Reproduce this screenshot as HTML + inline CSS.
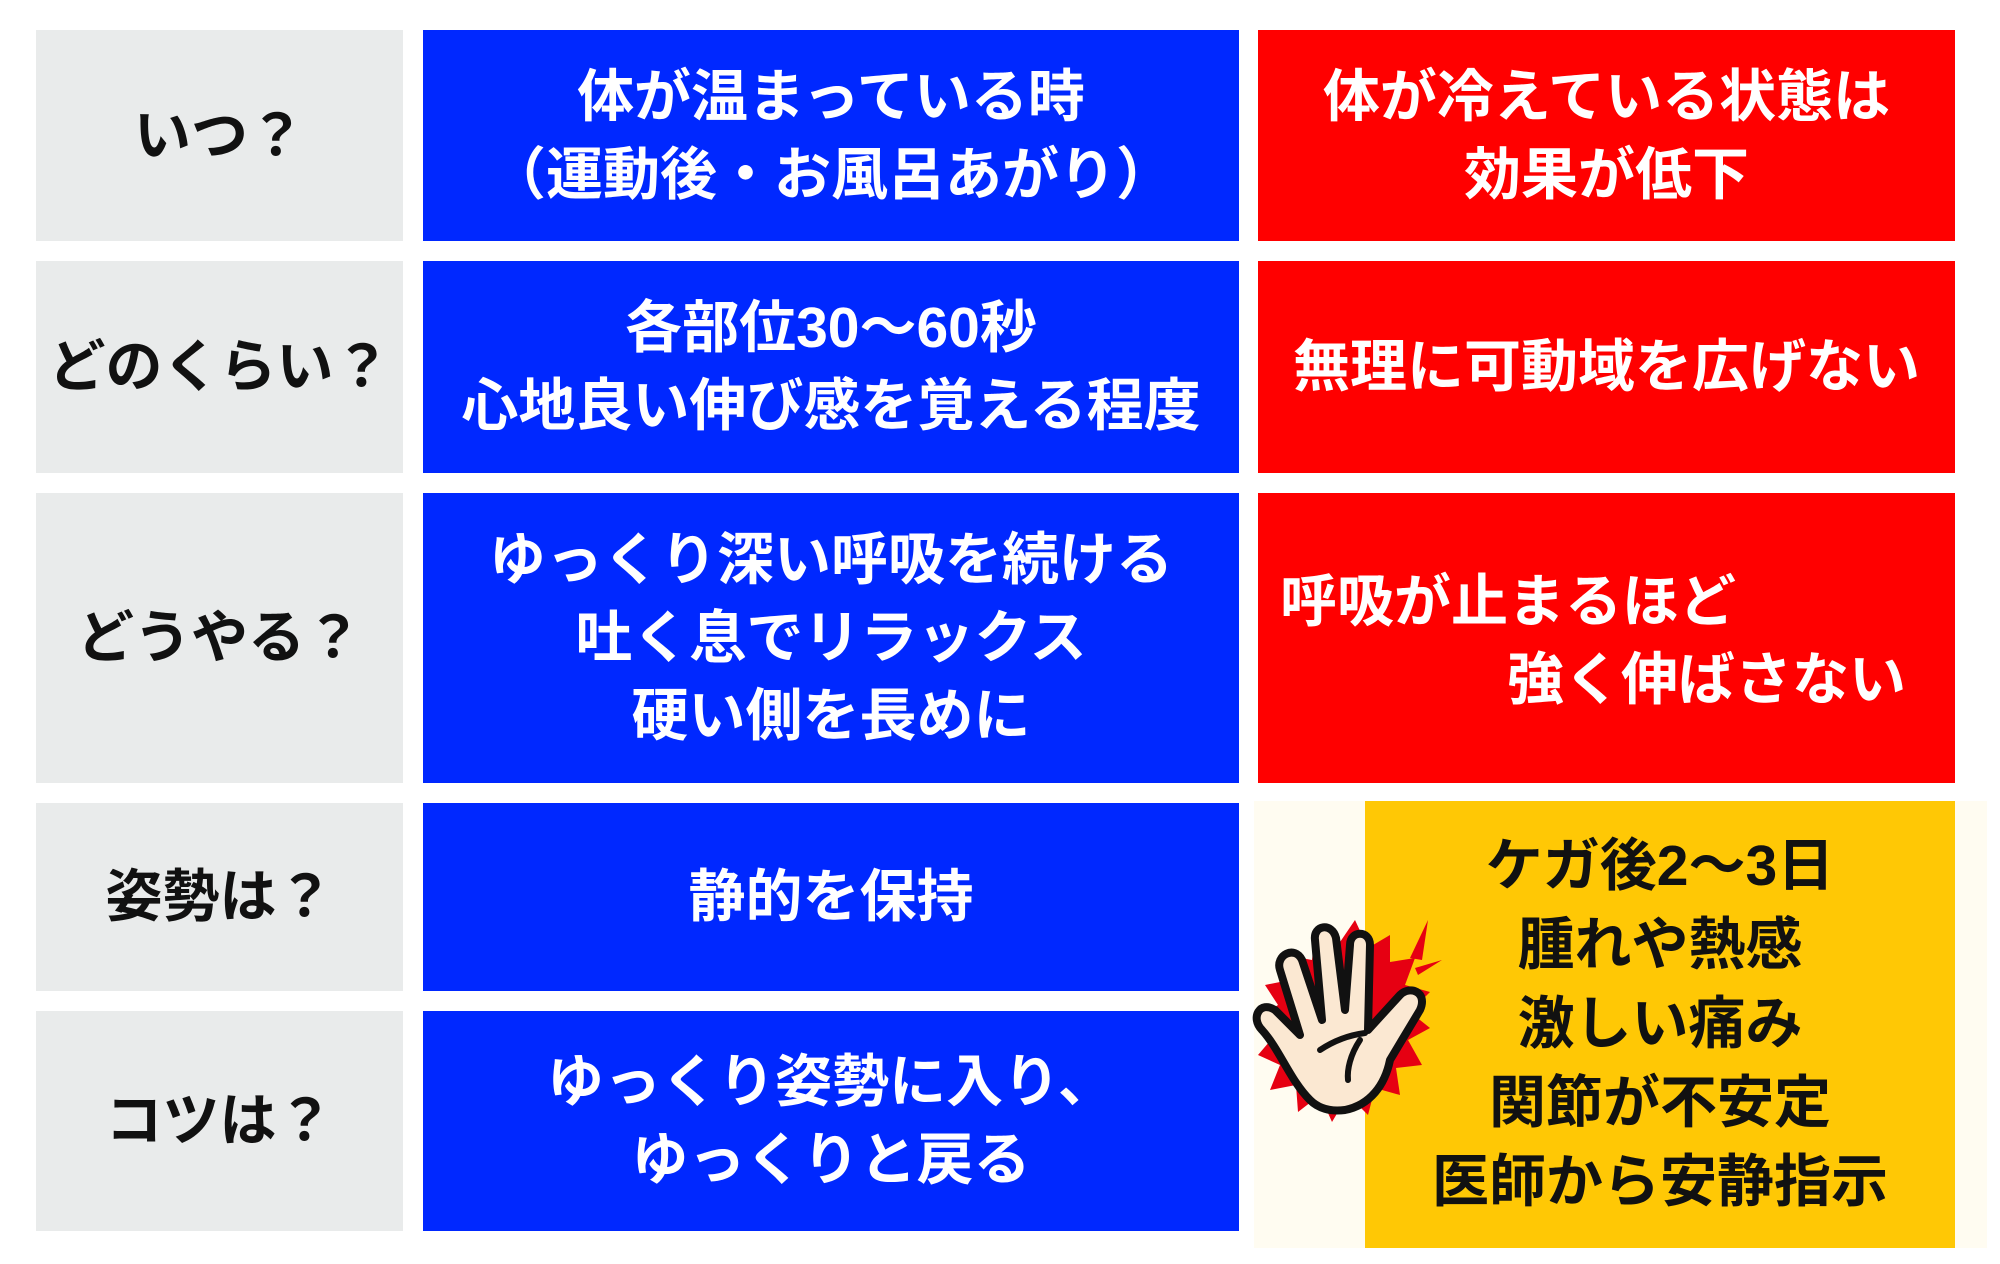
<!DOCTYPE html>
<html><head><meta charset="utf-8"><style>
body{margin:0;width:2000px;height:1264px;background:#fff;position:relative;overflow:hidden;font-family:"Liberation Sans","Noto Sans CJK JP",sans-serif;font-weight:bold}
.b{position:absolute;display:flex;align-items:center;justify-content:center;text-align:center;font-size:57px;line-height:78px}
.g{background:#e9ebeb;color:#111}
.bl{background:#0028ff;color:#fff}
.r{background:#ff0000;color:#fff}
</style></head><body>
<div class="b g" style="left:36px;top:30px;width:367px;height:211px">いつ？</div>
<div class="b g" style="left:36px;top:261px;width:367px;height:212px">どのくらい？</div>
<div class="b g" style="left:36px;top:493px;width:367px;height:290px">どうやる？</div>
<div class="b g" style="left:36px;top:803px;width:367px;height:188px">姿勢は？</div>
<div class="b g" style="left:36px;top:1011px;width:367px;height:220px">コツは？</div>

<div class="b bl" style="left:423px;top:30px;width:816px;height:211px">体が温まっている時<br>（運動後・お風呂あがり）</div>
<div class="b bl" style="left:423px;top:261px;width:816px;height:212px">各部位30〜60秒<br>心地良い伸び感を覚える程度</div>
<div class="b bl" style="left:423px;top:493px;width:816px;height:290px">ゆっくり深い呼吸を続ける<br>吐く息でリラックス<br>硬い側を長めに</div>
<div class="b bl" style="left:423px;top:803px;width:816px;height:188px">静的を保持</div>
<div class="b bl" style="left:423px;top:1011px;width:816px;height:220px">ゆっくり姿勢に入り、<br>ゆっくりと戻る</div>

<div class="b r" style="left:1258px;top:30px;width:697px;height:211px">体が冷えている状態は<br>効果が低下</div>
<div class="b r" style="left:1258px;top:261px;width:697px;height:212px">無理に可動域を広げない</div>
<div class="b r" style="left:1258px;top:493px;width:697px;height:290px;display:block;text-align:left">
<div style="position:absolute;left:22px;top:70px">呼吸が止まるほど</div>
<div style="position:absolute;left:249px;top:148px">強く伸ばさない</div></div>

<div style="position:absolute;left:1254px;top:801px;width:733px;height:447px;background:#fffcf1"></div>
<div class="b" style="left:1365px;top:801px;width:590px;height:447px;background:#ffc805;color:#111;line-height:79px">ケガ後2〜3日<br>腫れや熱感<br>激しい痛み<br>関節が不安定<br>医師から安静指示</div>

<svg style="position:absolute;left:1250px;top:900px" width="230" height="250" viewBox="0 0 230 250">
<polygon fill="#e60012" points="105,20 118,48 140,35 140,62 165,58 155,85 180,92 160,112 180,128 158,140 172,165 146,168 150,195 125,188 118,215 98,195 82,222 70,195 48,212 46,185 20,190 30,165 8,155 25,135 5,120 28,105 15,85 40,80 35,55 62,60 65,32 88,45"/>
<polygon fill="#e60012" points="178,20 172,60 160,58"/>
<polygon fill="#e60012" points="192,60 168,75 165,68"/>
<path d="M60,200 C40,180 30,150 12,130 C0,118 10,100 25,110 L50,135 L30,70 C25,55 45,45 52,60 L72,120 L65,40 C63,25 82,22 86,38 L95,110 L100,45 C100,30 120,30 120,45 L118,130 L150,95 C160,85 178,92 170,110 L140,160 C135,185 120,205 95,210 C80,212 68,208 60,200 Z" fill="#fbe8d2" stroke="#111" stroke-width="8" stroke-linejoin="round"/>
<path d="M70,150 C85,140 100,135 115,133 M110,140 C100,155 97,170 98,180" fill="none" stroke="#111" stroke-width="6" stroke-linecap="round"/>
</svg>
</body></html>
